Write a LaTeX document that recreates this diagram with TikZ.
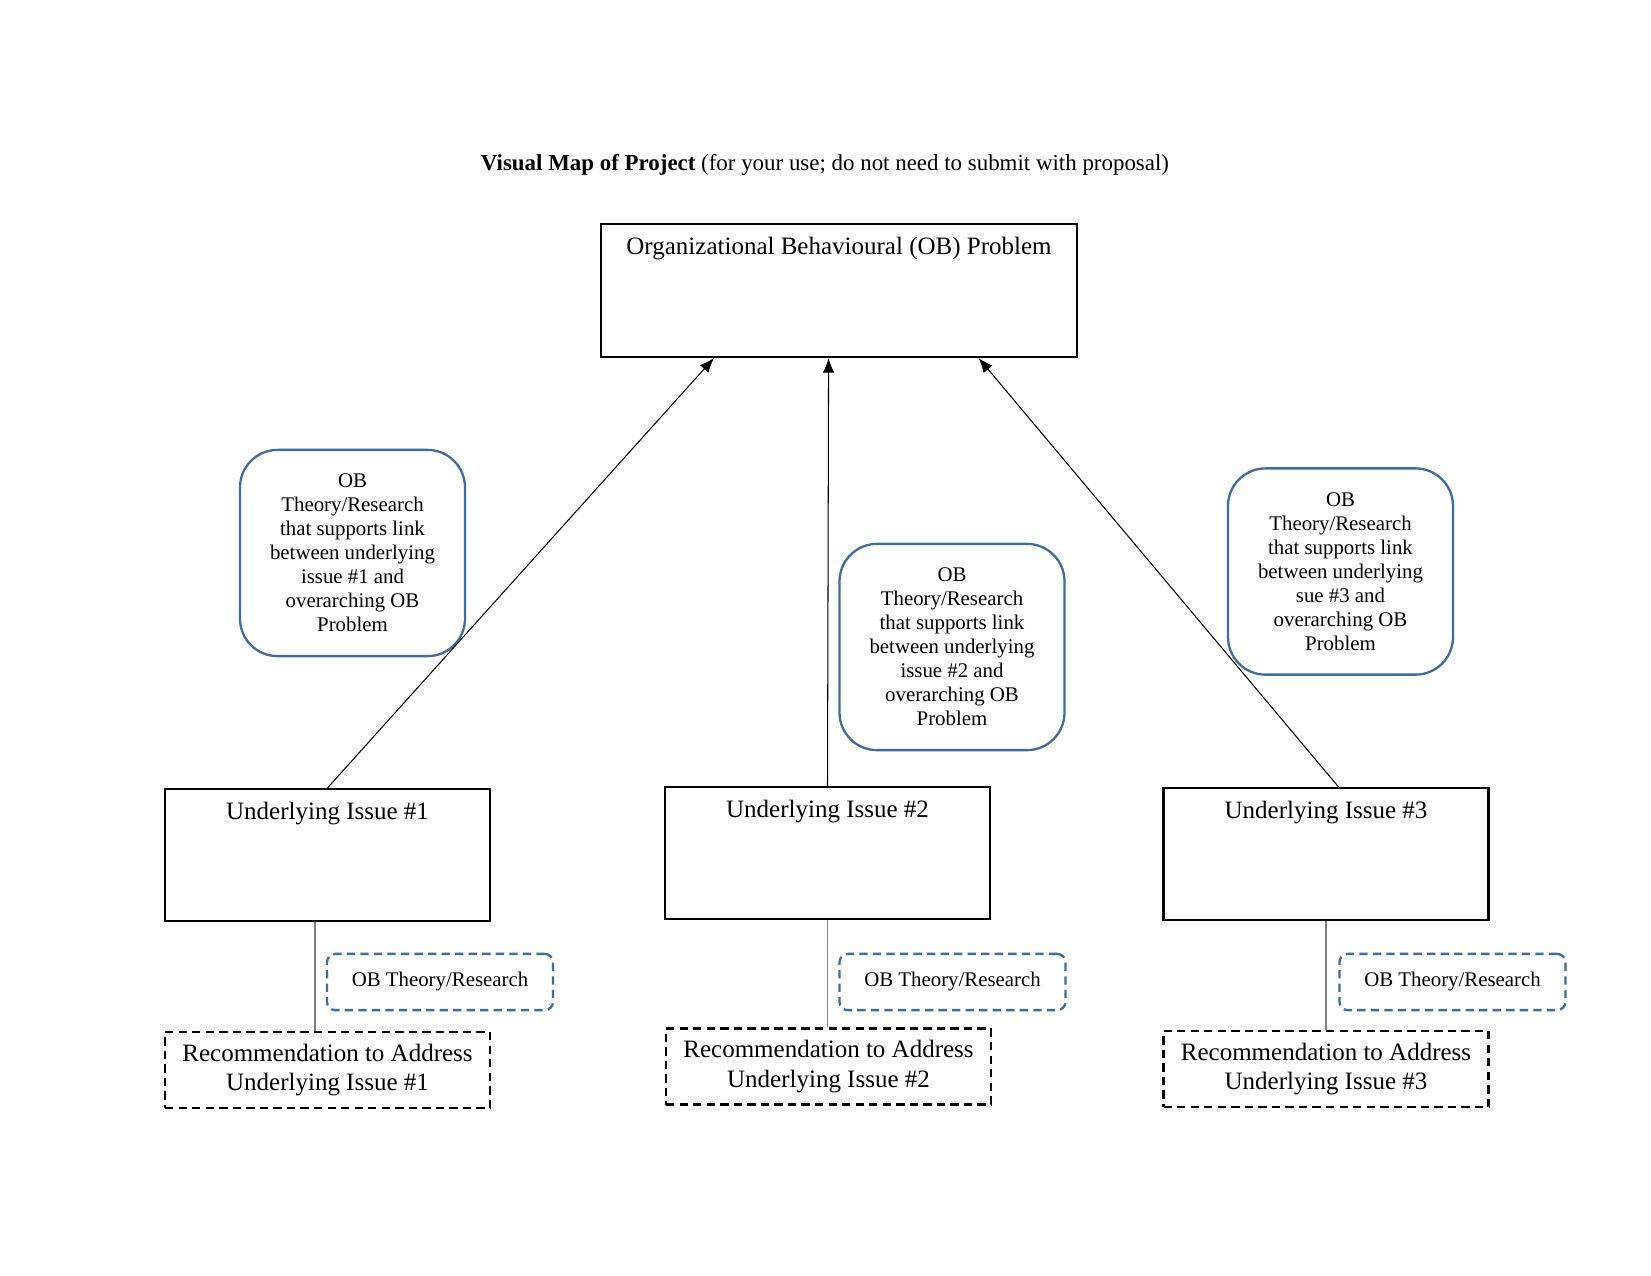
\documentclass[tikz,border=0pt]{standalone}
\usepackage{fontspec}
\setmainfont{Liberation Serif}
\usepackage{xcolor}
\usepackage{tikz}
\usetikzlibrary{shapes,arrows.meta,positioning,calc}

\definecolor{obblue}{RGB}{62,108,156}

\begin{document}
\begin{tikzpicture}[
  x=0.48pt, y=-0.48pt,
  solidbox/.style={draw, rectangle, line width=1pt, minimum width=156pt, minimum height=63.4pt},
  probbox/.style={solidbox, minimum width=228.5pt, minimum height=63.8pt},
  recbox/.style={draw, rectangle, line width=1.1pt, dash pattern=on 4pt off 2.5pt,
    minimum width=156pt, minimum height=36.5pt, align=center, font=\fontsize{12}{14.2}\selectfont},
  theory/.style={draw=obblue, rounded corners=18pt, line width=1.1pt, minimum width=108pt,
    minimum height=99pt, align=center, font=\fontsize{10}{11.5}\selectfont},
  theorysmall/.style={draw=obblue, rounded corners=4pt, line width=1.1pt, dash pattern=on 4pt off 2.5pt,
    minimum width=108.5pt, minimum height=27pt, font=\fontsize{10}{12}\selectfont},
  toplabel/.style={anchor=north, inner sep=0pt, yshift=-6.5pt, font=\fontsize{12}{14}\selectfont},
  ptr/.style={-{Latex[length=7pt,width=5.5pt]}, line width=0.5pt},
  link/.style={gray, line width=0.8pt}
]
\useasboundingbox (0,0) rectangle (1651,1275);

\node[font=\fontsize{11}{14}\selectfont] (title) at (825,165)
  {\textbf{Visual Map of Project} (for your use; do not need to submit with proposal)};

\node[probbox, label={[toplabel]north:Organizational Behavioural (OB) Problem}] (prob) at (839,290.5) {};

\node[solidbox, label={[toplabel]north:Underlying Issue \#1}] (i1) at (327.5,855) {};
\node[solidbox, label={[toplabel]north:Underlying Issue \#2}] (i2) at (827.5,853) {};
\node[solidbox, label={[toplabel]north:Underlying Issue \#3}] (i3) at (1326,854) {};

\node[theory] (t1) at (352.5,553) {OB\\Theory/Research\\that supports link\\between underlying\\issue \#1 and\\overarching OB\\Problem};
\node[theory] (t2) at (952,647) {OB\\Theory/Research\\that supports link\\between underlying\\issue \#2 and\\overarching OB\\Problem};
\node[theory] (t3) at (1340.5,571.5) {OB\\Theory/Research\\that supports link\\between underlying\\sue \#3 and\\overarching OB\\Problem};

\node[theorysmall] (s1) at (440,982) {OB Theory/Research};
\node[theorysmall] (s2) at (952.5,982) {OB Theory/Research};
\node[theorysmall] (s3) at (1452.5,982) {OB Theory/Research};

\node[recbox] (r1) at (327.5,1070) {Recommendation to Address\\Underlying Issue \#1};
\node[recbox] (r2) at (828.5,1066.5) {Recommendation to Address\\Underlying Issue \#2};
\node[recbox] (r3) at (1326,1069) {Recommendation to Address\\Underlying Issue \#3};

% issues up to the problem
\draw[ptr] (i1.north) -- ([xshift=-60pt]prob.south);
\draw[ptr] (i2.north) -- ([xshift=-5pt]prob.south);
\draw[ptr] ([xshift=6pt]i3.north) -- ([xshift=67pt]prob.south);

% issues down to recommendations
\draw[link] ([xshift=-6pt]i1.south) -- ([xshift=-6pt]r1.north);
\draw[link] (i2.south) -- (i2.south |- r2.north);
\draw[link] (i3.south) -- (i3.south |- r3.north);
\end{tikzpicture}
\end{document}
